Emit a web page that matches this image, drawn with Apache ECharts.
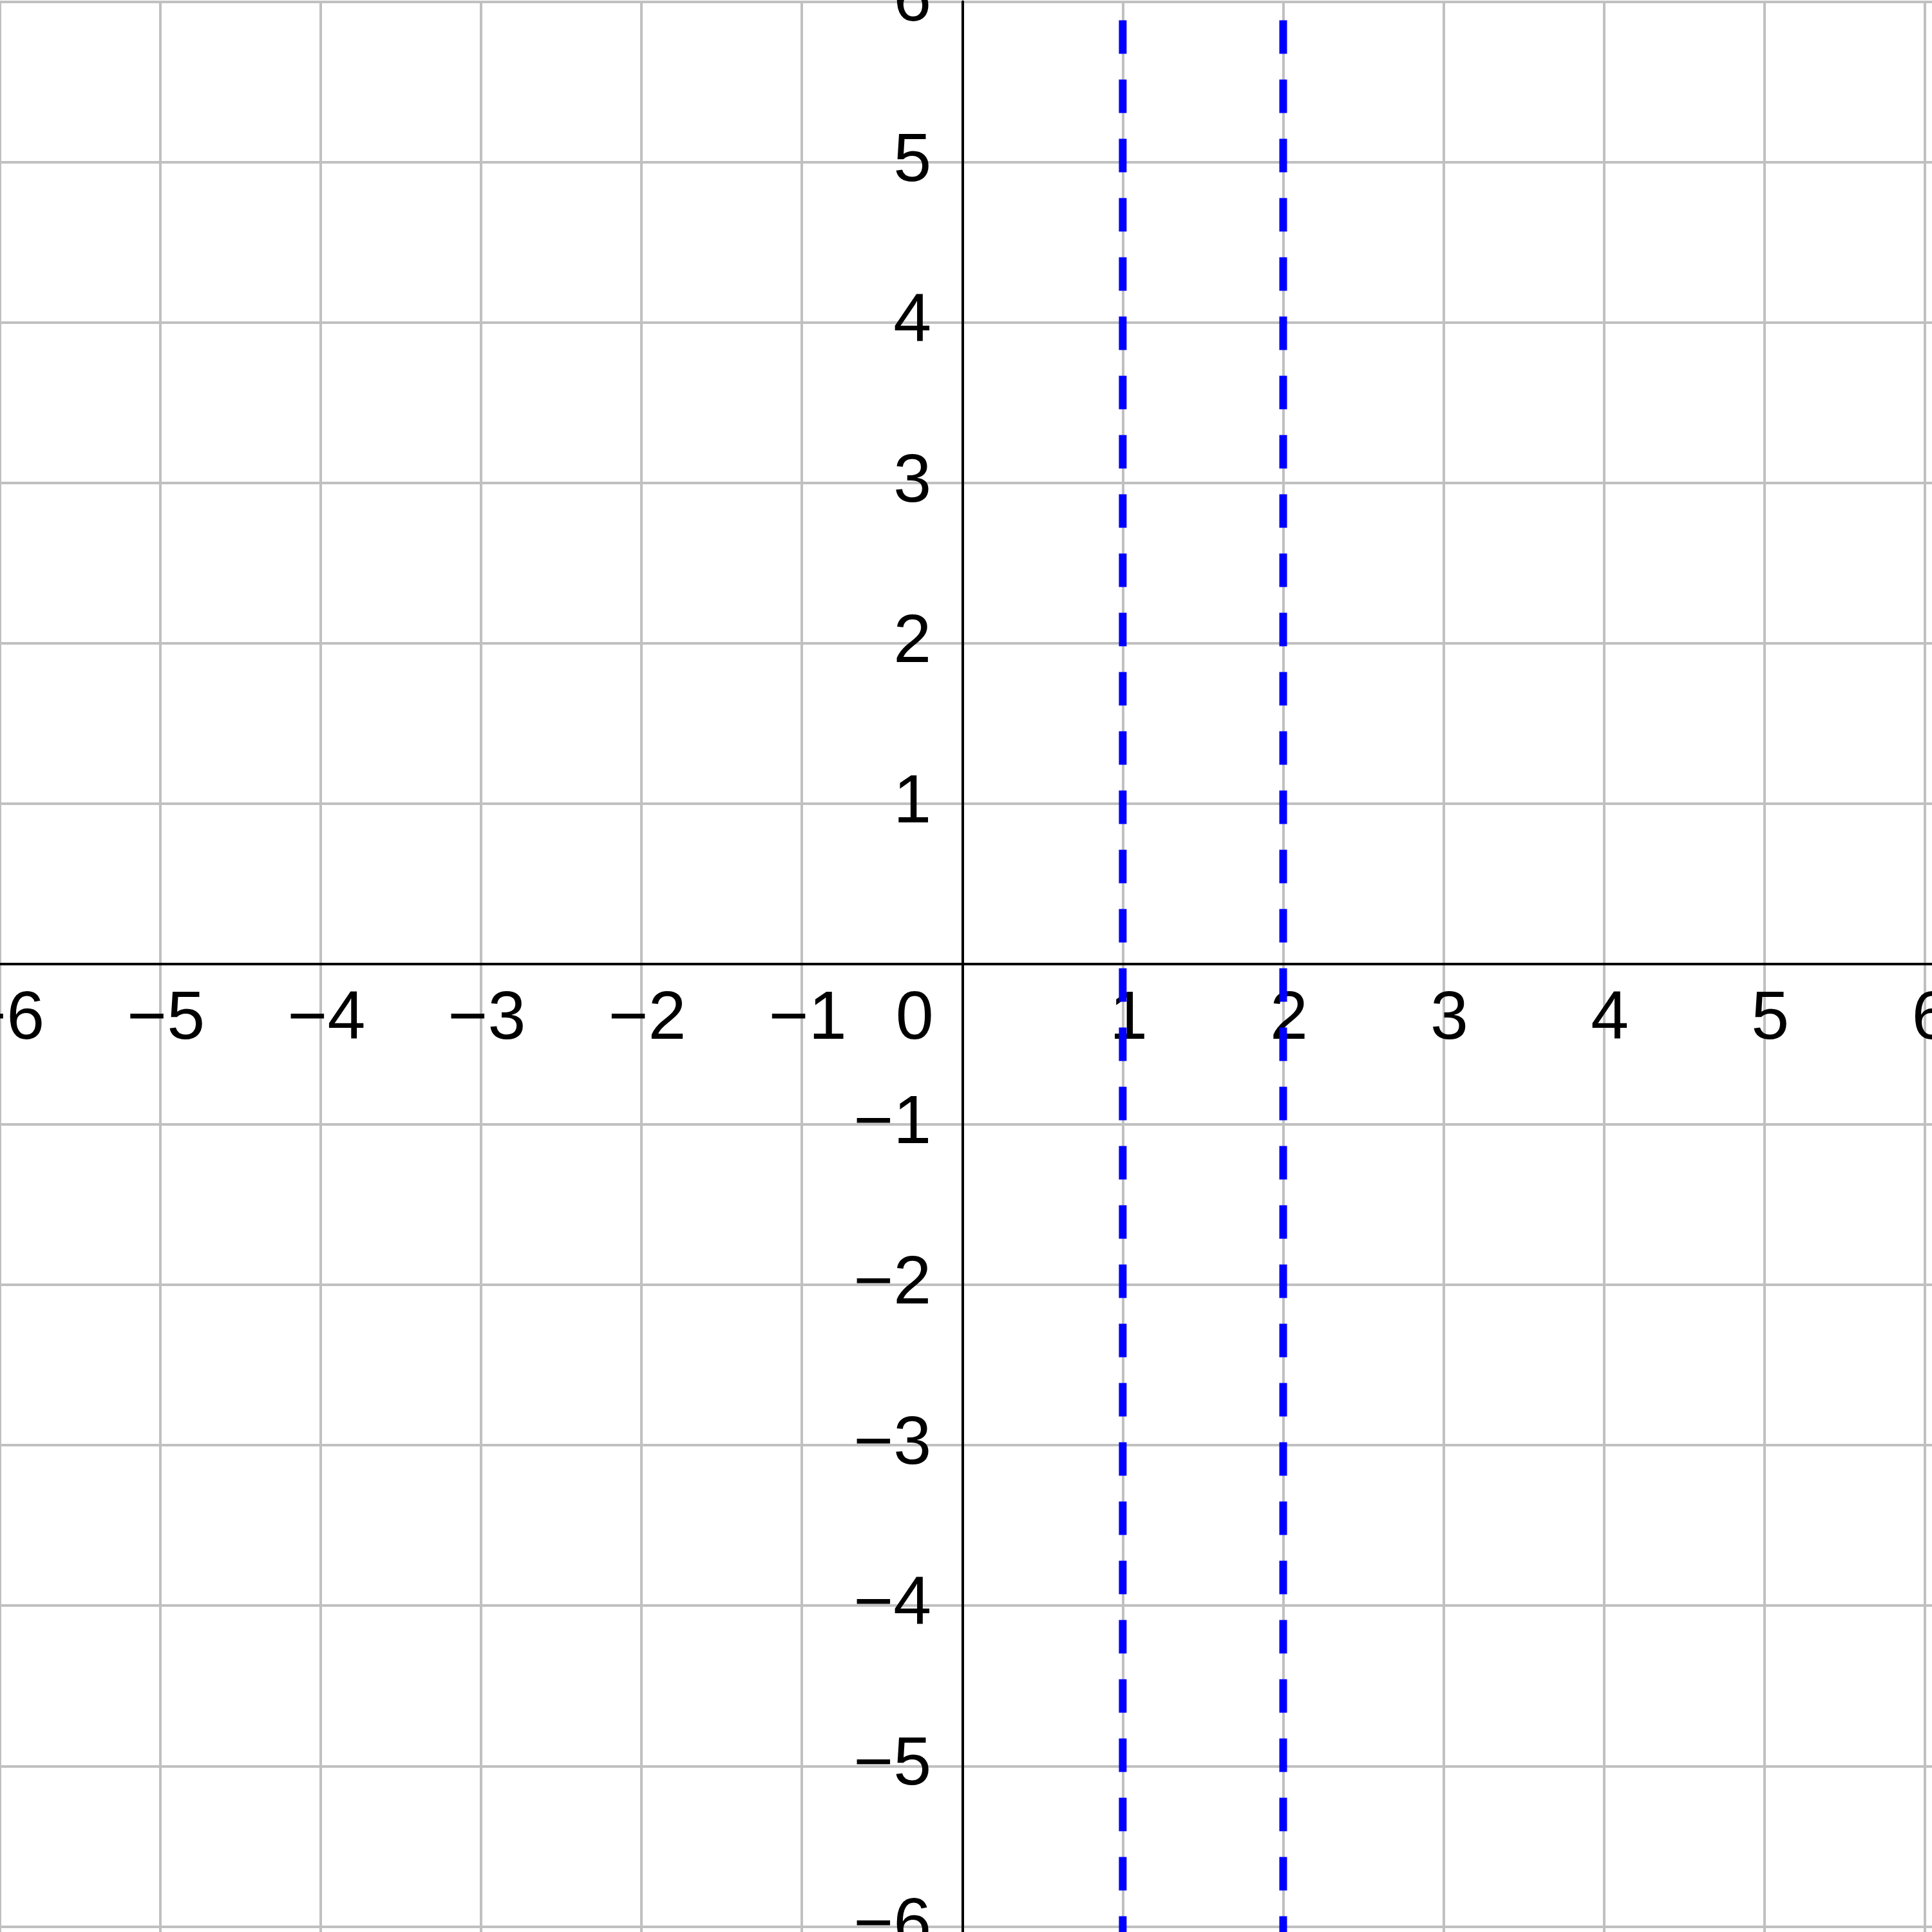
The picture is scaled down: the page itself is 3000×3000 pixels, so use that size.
<!DOCTYPE html>
<html>
<head>
<meta charset="utf-8">
<script src="https://cdn.jsdelivr.net/npm/echarts@6/dist/echarts.min.js"></script>
<style>
  html, body { margin: 0; padding: 0; background: #fff; }
  #chart { width: 3000px; height: 3000px; }
</style>
</head>
<body>
<div id="chart"></div>
<script>
// vertical dashed lines x = 1 and x = 2
var lineXs = [1, 2];
var lineYs = [6, -7];
// axis ranges (one extra step past the picture edge)
var xRange = [-7, 7];
var yRange = [-7, 6];

var chart = echarts.init(document.getElementById('chart'));
var font = '"Liberation Sans", Arial, sans-serif';

// grid box in pixels, one unit is about 249 px
var unitX = 249.1, unitY = 249.06;
var gridLeft = -249.4, gridTop = 2.6;
var gridW = unitX * (xRange[1] - xRange[0]);
var gridH = unitY * (yRange[1] - yRange[0]);

function fmt(v) {
    if (v < 0) return '\u2212' + (-v);
    return '' + v;
}

var series = lineXs.map(function (x) {
    return {
        type: 'line',
        data: lineYs.map(function (y) { return [x, y]; }),
        symbol: 'none',
        clip: false,
        z: 5,
        lineStyle: { color: '#0000ff', width: 12, type: [52, 40], dashOffset: 63, cap: 'butt' }
    };
});

var option = {
    animation: false,
    backgroundColor: '#ffffff',
    grid: {
        left: gridLeft, top: gridTop, width: gridW, height: gridH,
        containLabel: false, outerBoundsMode: 'none'
    },
    xAxis: {
        type: 'value', min: xRange[0], max: xRange[1], interval: 1,
        position: 'top',
        // move the axis down from the top edge (y = 6) to y = 0
        offset: -unitY * yRange[1],
        axisLine: { onZero: false, lineStyle: { color: '#000', width: 4 } },
        axisTick: { show: false },
        splitLine: { show: true, lineStyle: { color: '#c0c0c0', width: 4 } },
        axisLabel: {
            show: true, interval: 0, inside: true,
            color: '#000', fontSize: 106, fontFamily: font, margin: 34,
            padding: [0, 0, 0, 18],
            formatter: function (v) {
                if (v === 0) return '{z|0}';
                return fmt(v);
            },
            rich: { z: { fontSize: 106, fontFamily: font, color: '#000', padding: [0, 166, 0, 0] } }
        }
    },
    yAxis: {
        type: 'value', min: yRange[0], max: yRange[1], interval: 1,
        position: 'right',
        // move the axis left from the right edge (x = 7) to x = 0
        offset: -unitX * xRange[1],
        axisLine: { onZero: false, lineStyle: { color: '#000', width: 4 } },
        axisTick: { show: false },
        splitLine: { show: true, lineStyle: { color: '#c0c0c0', width: 4 } },
        axisLabel: {
            show: true, interval: 0, inside: true,
            color: '#000', fontSize: 106, fontFamily: font, margin: 48,
            padding: [12, 0, 0, 0],
            formatter: function (v) {
                if (v === 0) return '';
                return fmt(v);
            }
        }
    },
    series: series
};

chart.setOption(option);
</script>
</body>
</html>
